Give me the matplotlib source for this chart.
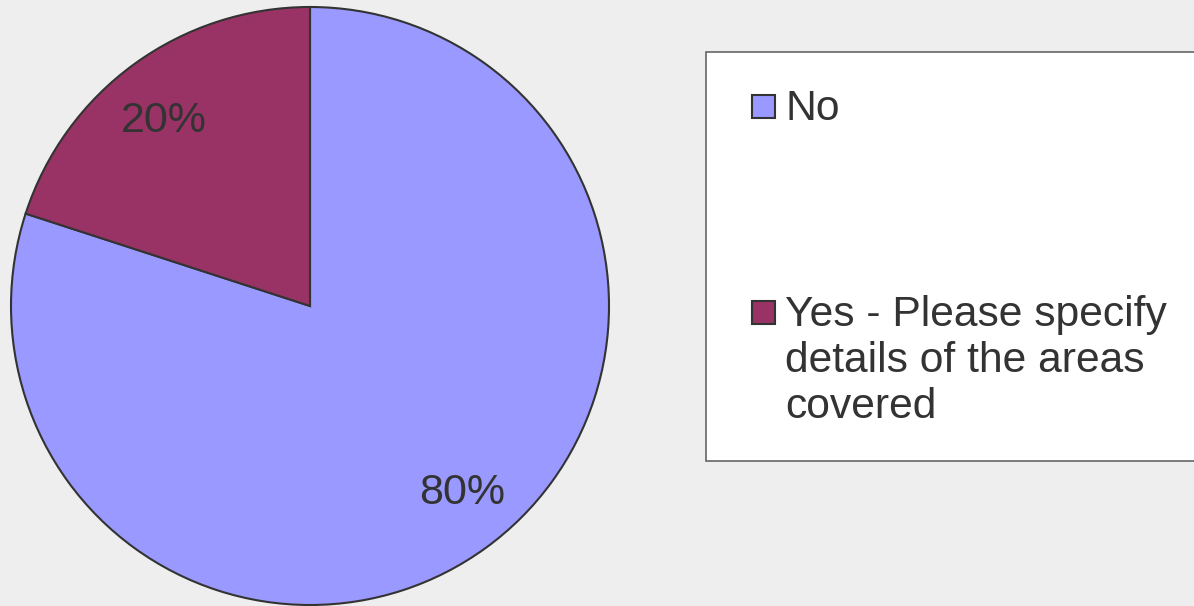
import matplotlib
matplotlib.use('Agg')
from matplotlib import pyplot as plt
from matplotlib.patches import Rectangle

labels = ['No', 'Yes - Please specify\ndetails of the areas\ncovered']
values = [80, 20]
colors = ['#9999FF', '#993366']
# where the percentage labels sit (fractions of the radius)
label_pos = [(0.51, -0.625), (-0.49, 0.62)]

W, H = 1194, 606
plt.rcParams['font.family'] = ['Liberation Sans', 'DejaVu Sans']
fig = plt.figure(figsize=(W / 100, H / 100), dpi=100, facecolor='#EEEEEE')

# pie axes placed in pixel terms: centre (310, 306), radius 299
cx, cy, r = 310, 306, 299
ax = fig.add_axes([(cx - r) / W, (H - cy - r) / H, 2 * r / W, 2 * r / H])
ax.set_facecolor('none')
wedges, texts, autotexts = ax.pie(values, colors=colors, startangle=90, counterclock=False,
                                  autopct='%1.0f%%', pctdistance=0.8, radius=1,
                                  wedgeprops=dict(edgecolor='#333333', linewidth=1.5,
                                                  clip_on=False),
                                  textprops=dict(fontsize=31, color='#333333'))
for t, p in zip(autotexts, label_pos):
    t.set_position(p)
ax.set_xlim(-1.0, 1.0)
ax.set_ylim(-1.0, 1.0)
ax.set_aspect('equal')
ax.axis('off')

# legend box drawn by hand
fig.patches.append(Rectangle((706 / W, 1 - 461 / H), (W - 706 + 5) / W, (461 - 52) / H,
                             transform=fig.transFigure, facecolor='white',
                             edgecolor='#666666', linewidth=1.2))
tops = [93, 299]
for lab, col, top in zip(labels, colors, tops):
    sq = 23
    fig.patches.append(Rectangle((752 / W, 1 - (top + 2 + sq) / H), sq / W, sq / H,
                                 transform=fig.transFigure, facecolor=col,
                                 edgecolor='#333333', linewidth=1.5))
    fig.text(785 / W, 1 - (top - 4) / H, lab, fontsize=30.7, color='#333333',
             va='top', ha='left', linespacing=1.2)

plt.savefig('out.png', dpi=100, facecolor=fig.get_facecolor())
